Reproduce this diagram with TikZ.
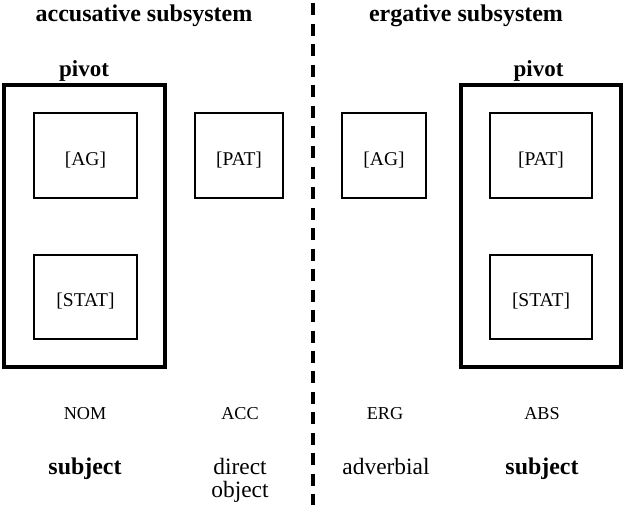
\documentclass[tikz,border=0pt]{standalone}
\usepackage{fontspec}
\setmainfont{Liberation Serif}
\begin{document}
\begin{tikzpicture}[x=1pt,y=-1pt,
  pivotbox/.style={draw, line width=4pt, inner sep=0pt},
  rolebox/.style={draw, line width=2.2pt, inner sep=0pt},
  heading/.style={font=\bfseries\fontsize{24}{28}\selectfont, anchor=base, inner sep=0pt},
  pivotlabel/.style={font=\bfseries\fontsize{23}{28}\selectfont, anchor=base, inner sep=0pt},
  rolelabel/.style={font=\fontsize{19.5}{22}\selectfont, anchor=base, inner sep=0pt},
  caselabel/.style={font=\fontsize{18.2}{20}\selectfont, anchor=base, inner sep=0pt},
  funclabel/.style={font=\fontsize{23.4}{26}\selectfont, anchor=base, inner sep=0pt},
  funcbold/.style={font=\bfseries\fontsize{23.9}{28}\selectfont, anchor=base, inner sep=0pt},
  divider/.style={line width=4pt, dash pattern=on 12pt off 8.45pt}]
\useasboundingbox (0,0) rectangle (623,505);

% subsystem headings
\node[heading] (acchead) at (144,22) {accusative subsystem};
\node[heading] (erghead) at (466,22) {ergative subsystem};

% dividing line between the two subsystems
\coordinate (divtop) at (313,3.3);
\coordinate (divbot) at (313,505);
\draw[divider] (divtop) -- (divbot);

% accusative side
\node[pivotbox, minimum width=161pt, minimum height=282pt] (lpivot) at (84.5,226) {};
\node[pivotlabel] (lpivotlbl) at (84,77) {pivot};
\node[rolebox, minimum width=103pt, minimum height=85pt] (lag) at (85.5,155.5) {};
\node[rolebox, minimum width=103pt, minimum height=84pt] (lstat) at (85.5,297) {};
\node[rolebox, minimum width=88pt, minimum height=85pt] (lpat) at (239,155.5) {};
\node[rolelabel] (lagtxt) at ([yshift=-10.5pt]lag.center) {[AG]};
\node[rolelabel] (lstattxt) at ([yshift=-9.7pt]lstat.center) {[STAT]};
\node[rolelabel] (lpattxt) at ([yshift=-10.5pt]lpat.center) {[PAT]};

% ergative side
\node[pivotbox, minimum width=159.5pt, minimum height=282pt] (rpivot) at (540.75,226) {};
\node[pivotlabel] (rpivotlbl) at (538.5,77) {pivot};
\node[rolebox, minimum width=84pt, minimum height=85pt] (rag) at (384,155.5) {};
\node[rolebox, minimum width=102pt, minimum height=85pt] (rpat) at (541,155.5) {};
\node[rolebox, minimum width=102pt, minimum height=84pt] (rstat) at (541,297) {};
\node[rolelabel] (ragtxt) at ([yshift=-10.5pt]rag.center) {[AG]};
\node[rolelabel] (rpattxt) at ([yshift=-10.5pt]rpat.center) {[PAT]};
\node[rolelabel] (rstattxt) at ([yshift=-9.7pt]rstat.center) {[STAT]};

% case labels
\node[caselabel] (nom) at (85,419) {NOM};
\node[caselabel] (acc) at (240,419) {ACC};
\node[caselabel] (erg) at (385,419) {ERG};
\node[caselabel] (abs) at (542,419) {ABS};

% grammatical functions
\node[funcbold] (lsubj) at (85,474) {subject};
\node[funclabel] (dobjA) at (240,474) {direct};
\node[funclabel] (dobjB) at (240,497) {object};
\node[funclabel] (adv) at (386,474) {adverbial};
\node[funcbold] (rsubj) at (542,474) {subject};
\end{tikzpicture}
\end{document}
